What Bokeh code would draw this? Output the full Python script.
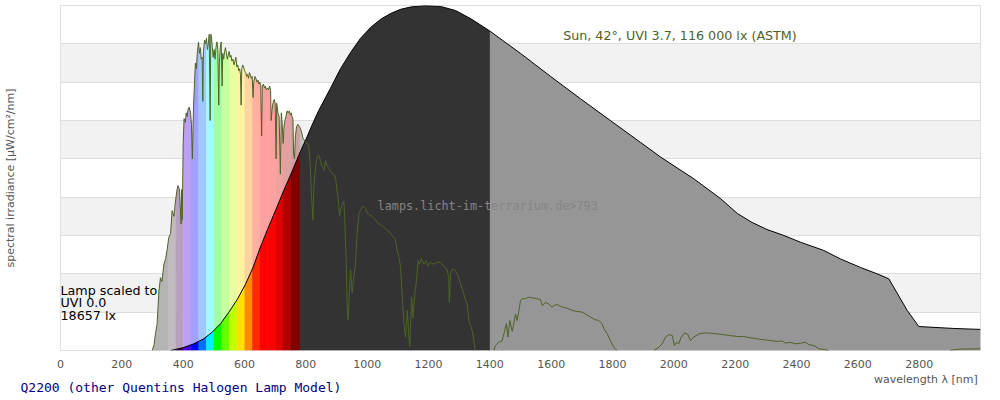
import numpy as np
from bokeh.plotting import figure
from bokeh.models import Range1d, FixedTicker, Label, LinearAxis
from bokeh.embed import file_html
from bokeh.resources import INLINE

# ---------------- data ----------------
# Sun spectrum (ASTM), spectral irradiance in uW/cm2/nm
sun_nm = [299, 305, 310, 315, 321, 326, 331, 337, 343, 348, 353, 359, 364, 370, 375, 380,
          383, 388, 393, 395, 397, 400, 403, 407, 410, 413, 416, 420, 424, 427, 430, 432,
          434, 437, 440, 443, 446, 450, 453, 456, 459, 462, 464, 466, 470, 473, 476, 479,
          482, 485, 488, 490, 492, 495, 498, 501, 504, 507, 510, 513, 516, 518, 521, 524,
          527, 529, 532, 535, 538, 541, 544, 547, 550, 553, 556, 559, 562, 566, 569, 572,
          575, 578, 581, 584, 587, 589, 591, 594, 597, 600, 604, 607, 610, 613, 616, 619,
          622, 625, 628, 630, 634, 637, 641, 644, 647, 650, 653, 656, 658, 662, 665, 668,
          671, 675, 678, 682, 685, 687, 690, 694, 697, 700, 703, 705, 709, 713, 717, 720,
          723, 726, 729, 732, 735, 739, 742, 746, 749, 752, 755, 758, 760, 763, 766, 770,
          774, 778, 782, 786, 790, 794, 798, 802, 806, 810, 814, 818, 823, 826, 832, 837,
          842, 848, 853, 859, 864, 870, 875, 880, 886, 891, 897, 902, 905, 910, 913, 918,
          924, 927, 929, 932, 935, 938, 942, 946, 951, 956, 962, 967, 973, 978, 984, 989,
          995, 1000, 1005, 1016, 1027, 1038, 1049, 1060, 1071, 1082, 1092, 1098, 1103, 1109,
          1112, 1116, 1120, 1125, 1131, 1136, 1139, 1145, 1149, 1156, 1160, 1166, 1171, 1177,
          1185, 1192, 1199, 1206, 1217, 1228, 1239, 1250, 1261, 1266, 1268, 1272, 1277, 1286,
          1294, 1304, 1315, 1326, 1332, 1337, 1343, 1348, 1353, 1413, 1418, 1429, 1440, 1448,
          1454, 1459, 1465, 1473, 1478, 1484, 1489, 1495, 1500, 1505, 1516, 1527, 1538, 1554,
          1565, 1571, 1582, 1592, 1603, 1609, 1620, 1630, 1647, 1658, 1669, 1679, 1690, 1701,
          1712, 1728, 1745, 1755, 1766, 1772, 1783, 1793, 1804, 1815, 1935, 1951, 1962, 1973,
          1984, 1995, 2002, 2009, 2016, 2024, 2035, 2046, 2054, 2065, 2082, 2103, 2120, 2141,
          2163, 2185, 2207, 2228, 2250, 2272, 2293, 2315, 2337, 2353, 2364, 2380, 2397, 2413,
          2429, 2440, 2457, 2473, 2489, 2505, 2900, 2930, 3000]
sun_v = [0, 3, 9, 14, 31, 38, 36, 45, 48, 53, 59, 61, 73, 70, 78, 84,
         86, 84, 66, 84, 68, 108, 121, 119, 124, 122, 126, 127, 124, 118, 100, 115,
         128, 140, 150, 147, 155, 161, 155, 158, 152, 153, 130, 156, 162, 160, 163, 157,
         160, 165, 120, 165, 164, 158, 153, 157, 152, 158, 161, 157, 128, 150, 158, 161,
         138, 155, 152, 156, 158, 155, 152, 154, 156, 153, 154, 151, 152, 149, 151, 153,
         148, 149, 146, 147, 144, 128, 147, 149, 148, 146, 145, 143, 144, 142, 145, 144,
         142, 143, 132, 140, 143, 142, 140, 141, 139, 140, 138, 112, 138, 139, 137, 138,
         136, 137, 136, 138, 136, 120, 126, 130, 131, 129, 100, 129, 124, 122, 92, 124,
         118, 108, 117, 120, 122, 125, 124, 125, 123, 124, 122, 121, 103, 100, 112, 117,
         118, 117, 116, 114, 111, 110, 109, 108, 108, 106, 97, 83, 68, 85, 96, 101,
         102, 99, 96, 94, 99, 96, 95, 94, 92, 92, 90, 83, 80, 70, 73, 76,
         78, 68, 59, 45, 21, 16, 31, 42, 30, 38, 45, 61, 71, 73, 75, 75,
         74, 72, 71, 70, 68, 66, 65, 63.5, 62, 60, 58, 52, 49, 43.5,
         35, 24, 14, 7, 21, 7, 2, 28, 17, 31, 35, 47, 45, 48,
         45, 47, 44, 46, 45, 46, 46, 44, 42, 38, 25, 40, 42.5, 42,
         40, 35, 29.5, 24, 15.6, 13, 10, 5, 0, 0, 2.6, 4.3, 5, 10,
         14, 7, 15.6, 10, 14, 19, 15.6, 21, 26, 27, 27, 27.8, 27.5, 27,
         26.5, 23.5, 25, 24.3, 22.6, 23.5, 24, 23, 22.3, 21.7, 20.9, 20.5, 20.3, 20,
         19, 17.4, 16, 15.7, 14, 11.3, 8.7, 5.2, 1.7, 0, 0, 1.7, 3.5, 7,
         8.3, 7.8, 2.6, 4.3, 3.5, 7, 9.2, 8.3, 5.2, 7, 8.7, 9.2, 9, 8.7,
         8.2, 7.8, 7.3, 7.3, 6.6, 6.1, 5.6, 5.2, 4.7, 5, 3.8, 4.3, 3.5, 3.8,
         4.3, 3.1, 2.6, 0.9, 0.5, 0, 0, 0.7, 0.9]

# Halogen lamp Q2200 (scaled), same units
lamp_nm = [360, 400, 435, 467, 495, 522, 549, 576, 603, 627, 652, 676, 701, 728, 750, 780,
           800, 820, 842, 880, 913, 946, 978, 1011, 1043, 1076, 1109, 1141, 1190, 1239, 1288,
           1337, 1397, 1500, 1598, 1696, 1793, 1891, 1957, 2065, 2152, 2207, 2255, 2304, 2359,
           2413, 2489, 2543, 2609, 2663, 2701, 2761, 2799, 2913, 3000]
lamp_v = [0, 1.5, 3.5, 6.1, 9.6, 14, 20, 26.5, 34.5, 43, 54, 63.5, 73, 83.5, 91.5, 103,
          110, 117.5, 125.2, 136.7, 147, 155.5, 162.8, 168.5, 172.7, 175.8, 178, 179.2, 180, 179.5, 177.4,
          173.2, 167, 155, 143, 131.3, 120, 108.6, 100.9, 89.6, 79.3, 71.5, 66.8, 63.1, 60,
          56.5, 52.2, 47.8, 43.3, 40, 37.4, 20.9, 12.5, 11.5, 11]

x_ticks = list(range(0, 3000, 200))
y_grid = list(range(0, 181, 20))
x_label = "wavelength λ [nm]"
x_label_pos = 2822          # nm under which the axis title sits (right end of the axis)

# colour bands of the visible range (nm edges) and lamp colours
vis_edges = [375, 400, 425, 450, 475, 500, 525, 550, 575, 600, 625, 650, 675, 700, 725, 750, 780]
vis_colors = ["#3c0050", "#4b00e0", "#0000ff", "#0070ff", "#00eeff", "#00ff00", "#66ff00",
              "#c0ff00", "#ffe000", "#ff8c00", "#ff2a00", "#ff0000", "#ff0000", "#e00000",
              "#b00000", "#800000"]
uv_edges = [299, 350, 375]
sun_uv_colors = ["#b4b4b4", "#c0bcc0"]
ir_edges = [780, 1400, 3000]
lamp_ir_colors = ["#333333", "#969696"]
sun_ir_color = "#c0c0c0"

SUN_COLOR = "#4f6228"


def pastel(h):
    r, g, b = int(h[1:3], 16), int(h[3:5], 16), int(h[5:7], 16)
    return "#%02x%02x%02x" % tuple(int(round(160 + c * 95 / 255)) for c in (r, g, b))


p = figure(width=1000, height=400, output_backend="svg", toolbar_location=None,
           x_range=Range1d(0, 3000), y_range=Range1d(0, 180),
           title="Q2200 (other Quentins Halogen Lamp Model)", title_location="below",
           min_border_left=60, min_border_right=20, min_border_top=5, min_border_bottom=50)
p.background_fill_color = "white"
p.border_fill_color = "white"
p.outline_line_color = "#dddddd"
p.outline_line_width = 1

# title (bottom left, monospace, dark blue)
p.title.align = "left"
p.title.offset = -40
p.title.text_font = "DejaVu Sans Mono"
p.title.text_font_size = "13px"
p.title.text_font_style = "normal"
p.title.text_color = "#000080"
p.title.vertical_align = "top"
try:
    p.title.standoff = -17
except Exception:
    p.title.standoff = 0

p.xgrid.grid_line_color = None
p.ygrid.ticker = FixedTicker(ticks=y_grid)
p.ygrid.grid_line_color = "#dddddd"
p.ygrid.band_fill_color = "#f2f2f2"
p.ygrid.band_fill_alpha = 1.0


def style_x_axis(ax, standoff):
    ax.axis_line_color = None
    ax.major_tick_line_color = None
    ax.minor_tick_line_color = None
    ax.major_tick_out = 0
    ax.major_tick_in = 0
    ax.major_label_standoff = standoff
    ax.major_label_text_font = "DejaVu Sans"
    ax.major_label_text_font_size = "11px"
    ax.major_label_text_color = "#555555"


xa = p.xaxis[0]
xa.ticker = FixedTicker(ticks=x_ticks)
style_x_axis(xa, 9)

# second, label-only axis row carrying the right-aligned axis title
xa2 = LinearAxis(ticker=FixedTicker(ticks=[x_label_pos]),
                 major_label_overrides={x_label_pos: x_label})
style_x_axis(xa2, 2)
p.add_layout(xa2, "below")

p.yaxis.ticker = FixedTicker(ticks=[])
p.yaxis.axis_line_color = None
p.yaxis.major_tick_line_color = None
p.yaxis.minor_tick_line_color = None
p.yaxis.major_tick_out = 0
p.yaxis.major_tick_in = 0
p.yaxis.axis_label = "spectral irradiance [µW/cm²/nm]"
p.yaxis.axis_label_text_font = "DejaVu Sans"
p.yaxis.axis_label_text_font_size = "11px"
p.yaxis.axis_label_text_font_style = "normal"
p.yaxis.axis_label_text_color = "#555555"
p.yaxis.axis_label_standoff = 44

sx = np.array(sun_nm, dtype=float)
sy = np.array(sun_v, dtype=float)
lx = np.array(lamp_nm, dtype=float)
ly = np.array(lamp_v, dtype=float)


def band(xs, ys, lo, hi, color, overlap=1.2):
    hi2 = min(hi + overlap, xs[-1])
    lo2 = max(lo, xs[0])
    if hi2 <= lo2:
        return
    m = (xs > lo2) & (xs < hi2)
    bx = np.concatenate([[lo2], xs[m], [hi2]])
    by = np.concatenate([[np.interp(lo2, xs, ys)], ys[m], [np.interp(hi2, xs, ys)]])
    p.varea(x=bx, y1=np.zeros_like(by), y2=by, fill_color=color, fill_alpha=1.0)


# sun fill (pastel)
for i, c in enumerate(sun_uv_colors):
    band(sx, sy, uv_edges[i], uv_edges[i + 1], c)
for i, c in enumerate(vis_colors):
    band(sx, sy, vis_edges[i], vis_edges[i + 1], pastel(c))
band(sx, sy, ir_edges[0], ir_edges[-1], sun_ir_color, overlap=0)

# lamp fill (saturated)
for i, c in enumerate(vis_colors):
    band(lx, ly, vis_edges[i], vis_edges[i + 1], c)
for i, c in enumerate(lamp_ir_colors):
    band(lx, ly, ir_edges[i], ir_edges[i + 1], c, overlap=0 if i == len(lamp_ir_colors) - 1 else 1.2)

p.line(lx, ly, line_color="black", line_width=1)

# sun line: drop the segments lying flat on the zero baseline
seg_x, seg_y, cur_x, cur_y = [], [], [], []
for i in range(len(sx) - 1):
    if sy[i] == 0 and sy[i + 1] == 0:
        if len(cur_x) > 1:
            seg_x.append(cur_x)
            seg_y.append(cur_y)
        cur_x, cur_y = [], []
        continue
    if not cur_x:
        cur_x, cur_y = [sx[i]], [sy[i]]
    cur_x.append(sx[i + 1])
    cur_y.append(sy[i + 1])
if len(cur_x) > 1:
    seg_x.append(cur_x)
    seg_y.append(cur_y)
p.multi_line(seg_x, seg_y, line_color=SUN_COLOR, line_width=1)

# texts inside the plot area
for txt, yv in [("Lamp scaled to", 31.3), ("UVI 0.0", 24.9), ("18657 lx", 18.3)]:
    p.add_layout(Label(x=0, y=yv, text=txt, text_font="DejaVu Sans", text_font_size="12.7px",
                       text_color="black", text_baseline="alphabetic", text_align="left"))
p.add_layout(Label(x=1639, y=164.3, text="Sun, 42°, UVI 3.7, 116 000 lx (ASTM)",
                   text_font="DejaVu Sans", text_font_size="12.7px", text_color=SUN_COLOR,
                   text_baseline="alphabetic", text_align="left"))
p.add_layout(Label(x=1393, y=75.3, text="lamps.licht-im-terrarium.de>793",
                   text_font="DejaVu Sans Mono", text_font_size="11.8px", text_color="#858585",
                   text_baseline="alphabetic", text_align="center"))

open("out.html", "w").write(file_html(p, INLINE))
